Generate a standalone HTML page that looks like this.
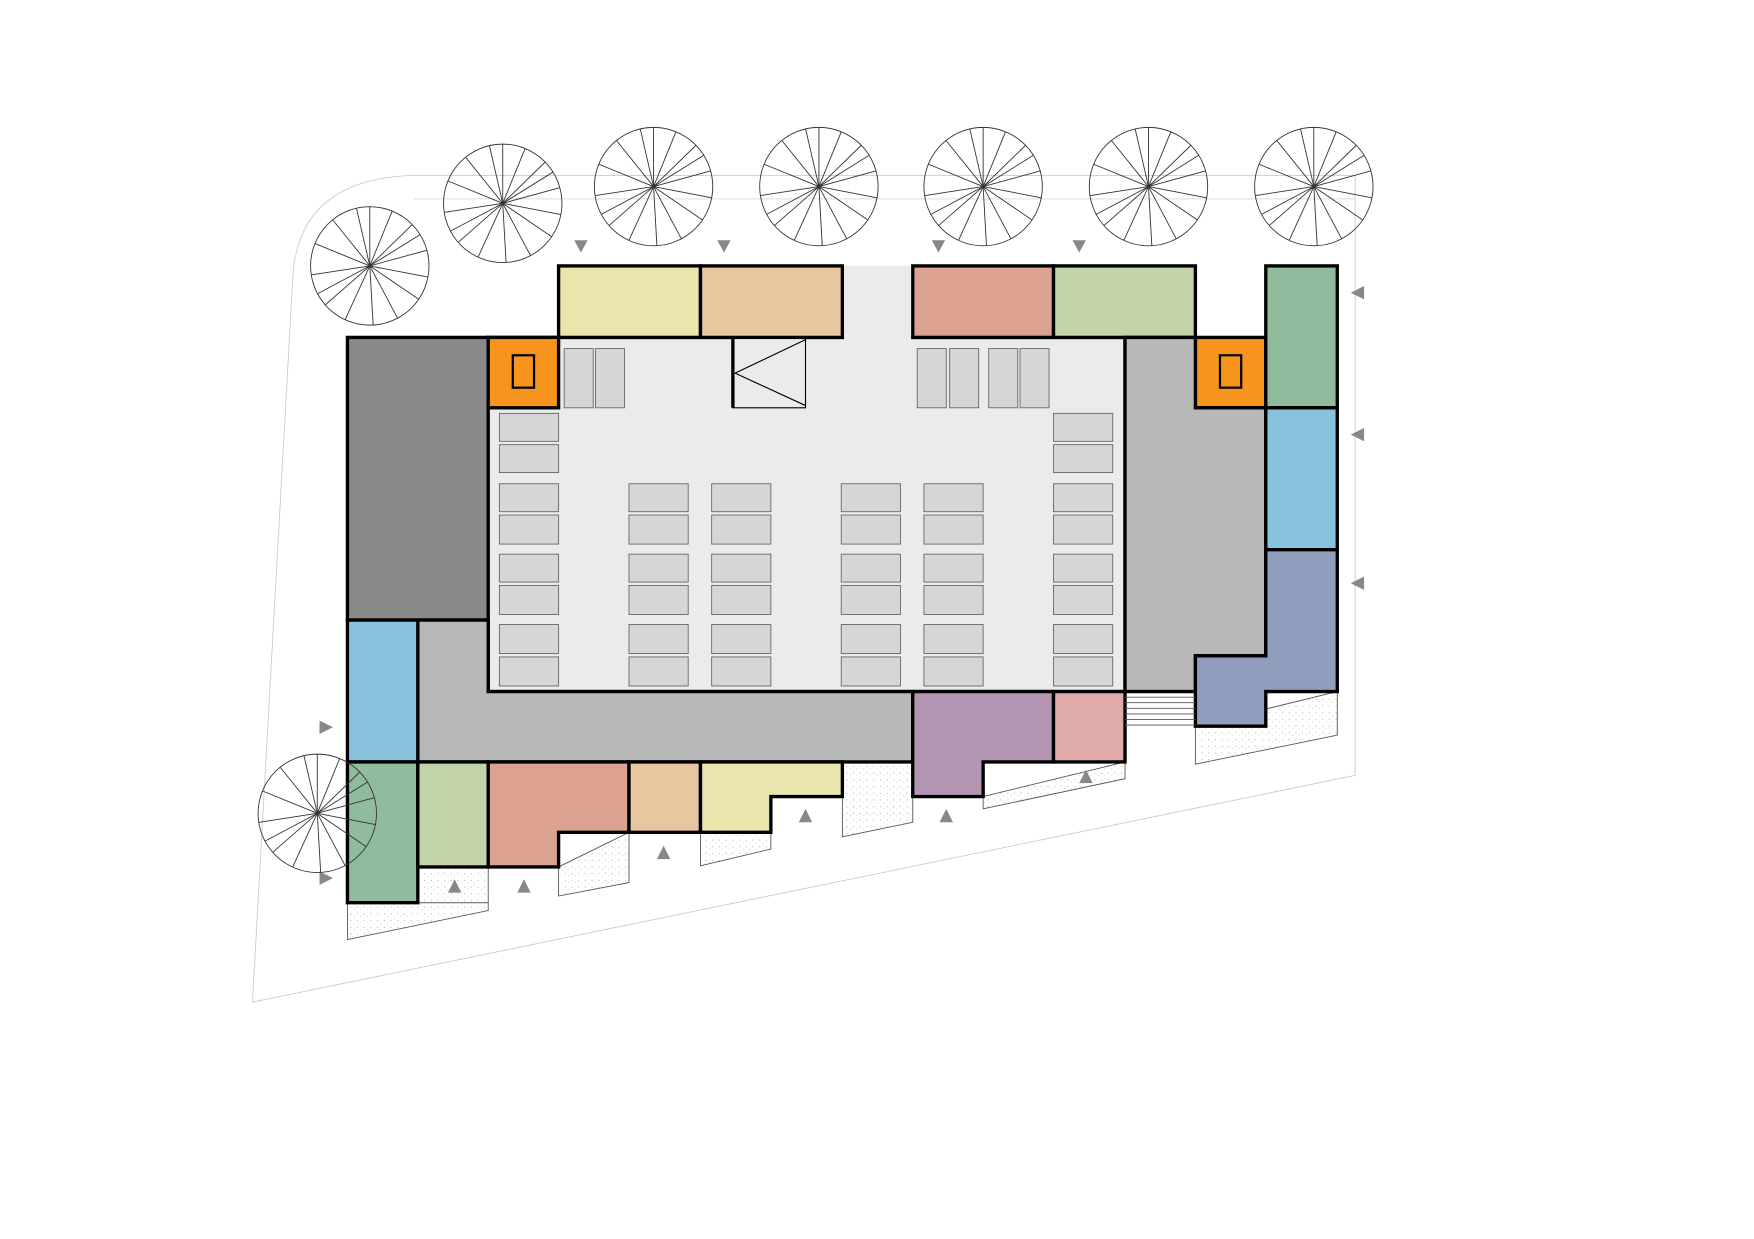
<!DOCTYPE html>
<html><head><meta charset="utf-8"><style>html,body{margin:0;padding:0;background:#fff}svg{display:block}</style></head>
<body>
<svg width="1754" height="1239" viewBox="0 0 1570 1109" xmlns="http://www.w3.org/2000/svg">
<defs>
<g id="tree" fill="none" stroke="#333" stroke-width="0.8">
<circle r="53" fill="none"/>
<line x1="0" y1="0" x2="0" y2="-53"/><line x1="0" y1="0" x2="20" y2="-49"/><line x1="0" y1="0" x2="38" y2="-37"/>
<line x1="0" y1="0" x2="51" y2="-14"/><line x1="0" y1="0" x2="52" y2="10"/><line x1="0" y1="0" x2="44" y2="30"/>
<line x1="0" y1="0" x2="25" y2="47"/><line x1="0" y1="0" x2="3" y2="53"/><line x1="0" y1="0" x2="-22" y2="48"/>
<line x1="0" y1="0" x2="-40" y2="35"/><line x1="0" y1="0" x2="-52" y2="8"/><line x1="0" y1="0" x2="-49" y2="-20"/>
<line x1="0" y1="0" x2="-33" y2="-41"/><line x1="0" y1="0" x2="-12" y2="-52"/><line x1="0" y1="0" x2="45" y2="-28"/>
<line x1="0" y1="0" x2="-47" y2="25"/>
</g>
<pattern id="dots" width="6" height="6" patternUnits="userSpaceOnUse"><rect width="6" height="6" fill="#fff"/><circle cx="2" cy="2" r="0.5" fill="#aaa"/><circle cx="5" cy="4" r="0.4" fill="#bbb"/></pattern>
</defs>
<path d="M226 897 L262 250 Q266 160 370 157 L1213 157 L1213 694 Z" fill="none" stroke="#ccc" stroke-width="0.8"/>
<line x1="370" y1="178" x2="1213" y2="178" stroke="#ddd" stroke-width="0.8"/>
<g fill="url(#dots)" stroke="#555" stroke-width="0.8">
<polygon points="311,808 437,808 437,815 311,841"/>
<polygon points="374,776 437,776 437,808 374,808" />
<polygon points="500,776 563,745 563,790 500,802"/>
<polygon points="627,745 690,745 690,760 627,775"/>
<polygon points="754,682 817,682 817,736 754,749"/>
<polygon points="880,713 1007,682 1007,697 880,724"/>
<polygon points="1070,650 1197,619 1197,658 1070,684"/>
</g>
<g stroke="#000" stroke-width="3" stroke-linejoin="miter">
<rect x="311" y="302" width="126" height="253" fill="#898989"/>
<rect x="437" y="302" width="570" height="317" fill="#ebebeb"/>
<rect x="437" y="302" width="63" height="63" fill="#f7941d"/>
<rect x="459" y="318" width="19" height="29" fill="#f7941d" stroke-width="2"/>
<rect x="1070" y="302" width="63" height="63" fill="#f7941d"/>
<rect x="1092" y="318" width="19" height="29" fill="#f7941d" stroke-width="2"/>
<rect x="500" y="238" width="127" height="64" fill="#e9e5ad"/>
<rect x="627" y="238" width="127" height="64" fill="#e8c69f"/>
<rect x="817" y="238" width="126" height="64" fill="#dca291"/>
<rect x="943" y="238" width="127" height="64" fill="#c2d3a9"/>
<polygon points="1007,302 1070,302 1070,365 1133,365 1133,587 1070,587 1070,619 1007,619" fill="#b8b8b8"/>
<rect x="1133" y="238" width="64" height="127" fill="#91bb9d"/>
<rect x="1133" y="365" width="64" height="127" fill="#89c2dc"/>
<polygon points="1133,492 1197,492 1197,619 1133,619 1133,650 1070,650 1070,587 1133,587" fill="#919dbd"/>
<polygon points="374,555 437,555 437,619 817,619 817,682 374,682" fill="#b8b8b8"/>
<rect x="311" y="555" width="63" height="127" fill="#89c2dc"/>
<polygon points="817,619 943,619 943,682 880,682 880,713 817,713" fill="#b496b4"/>
<rect x="943" y="619" width="64" height="63" fill="#e1aaab"/>
<rect x="311" y="682" width="63" height="126" fill="#91bb9d"/>
<rect x="374" y="682" width="63" height="94" fill="#c2d3a9"/>
<polygon points="437,682 563,682 563,745 500,745 500,776 437,776" fill="#dca291"/>
<rect x="563" y="682" width="64" height="63" fill="#e8c69f"/>
<polygon points="627,682 754,682 754,713 690,713 690,745 627,745" fill="#e9e5ad"/>
</g>
<rect x="755.5" y="238" width="60" height="66" fill="#ebebeb"/>
<g stroke="#000" fill="none" stroke-width="1">
<rect x="656" y="303" width="65" height="62" fill="#ebebeb"/>
<polyline points="721,304 658,334 721,363"/>
<line x1="656" y1="302" x2="656" y2="365" stroke-width="3"/>
</g>
<g stroke="#555" stroke-width="0.8">
<line x1="1007" y1="624" x2="1070" y2="624"/><line x1="1007" y1="629" x2="1070" y2="629"/><line x1="1007" y1="634" x2="1070" y2="634"/><line x1="1007" y1="639" x2="1070" y2="639"/><line x1="1007" y1="644" x2="1070" y2="644"/><line x1="1007" y1="649" x2="1070" y2="649"/>
</g>
<g fill="#d6d6d6" stroke="#666" stroke-width="0.8">
<rect x="505" y="312" width="26" height="53"/><rect x="533" y="312" width="26" height="53"/>
<rect x="821" y="312" width="26" height="53"/><rect x="850" y="312" width="26" height="53"/>
<rect x="885" y="312" width="26" height="53"/><rect x="913" y="312" width="26" height="53"/>
<rect x="447" y="370" width="53" height="25"/><rect x="447" y="398" width="53" height="25"/>
<rect x="943" y="370" width="53" height="25"/><rect x="943" y="398" width="53" height="25"/>
<g id="col">
<rect x="447" y="433" width="53" height="25"/><rect x="447" y="461" width="53" height="26"/>
<rect x="447" y="496" width="53" height="25"/><rect x="447" y="524" width="53" height="26"/>
<rect x="447" y="559" width="53" height="26"/><rect x="447" y="588" width="53" height="26"/>
</g>
<use href="#col" x="116"/><use href="#col" x="190"/><use href="#col" x="306"/><use href="#col" x="380"/><use href="#col" x="496"/>
</g>
<g fill="#888">
<polygon points="514,215 526,215 520,226"/><polygon points="642,215 654,215 648,226"/><polygon points="834,215 846,215 840,226"/><polygon points="960,215 972,215 966,226"/>
<polygon points="1221,256 1221,268 1209,262"/><polygon points="1221,383 1221,395 1209,389"/><polygon points="1221,516 1221,528 1209,522"/>
<polygon points="286,645 286,657 298,651"/><polygon points="286,780 286,792 298,786"/>
<polygon points="401,799 413,799 407,787"/><polygon points="463,799 475,799 469,787"/><polygon points="588,769 600,769 594,757"/><polygon points="715,736 727,736 721,724"/><polygon points="841,736 853,736 847,724"/><polygon points="966,701 978,701 972,689"/>
</g>
<use href="#tree" x="331" y="238"/><use href="#tree" x="450" y="182"/><use href="#tree" x="585" y="167"/><use href="#tree" x="733" y="167"/><use href="#tree" x="880" y="167"/><use href="#tree" x="1028" y="167"/><use href="#tree" x="1176" y="167"/><use href="#tree" x="284" y="728"/>
</svg>
</body></html>
